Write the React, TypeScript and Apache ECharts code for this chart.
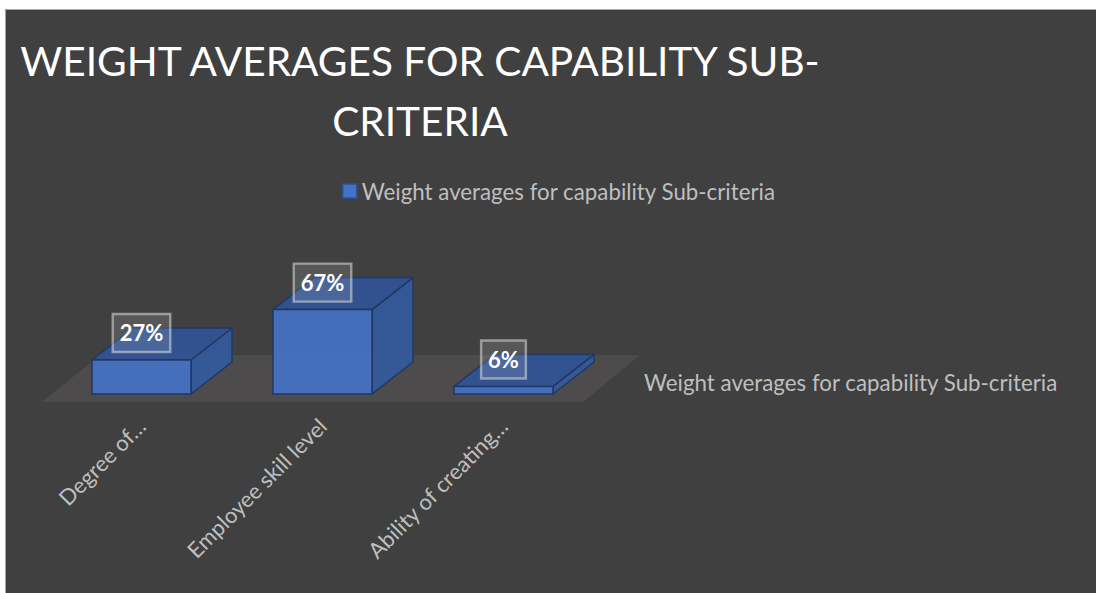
import React, { useEffect, useRef } from "react";
import * as echarts from "echarts";

const categories = ["Degree of…", "Employee skill level", "Ability of creating…"];
const values = [27, 67, 6];
const seriesName = "Weight averages for capability Sub-criteria";
const titleText = "WEIGHT AVERAGES FOR CAPABILITY SUB-\nCRITERIA";

const FONT = "Lato, 'Open Sans', sans-serif";

export default function App() {
  const ref = useRef<HTMLDivElement>(null);
  useEffect(() => {
    document.documentElement.style.background = "#404040";
    const chart = echarts.init(ref.current!, null, { renderer: "svg" });
    const DX = 41;
    const DY = -32;
    const barData = values.map((v, i) => [i, v]);

    chart.setOption({
      animation: false,
      backgroundColor: "#404040",
      title: {
        text: titleText,
        left: 415,
        top: 25,
        textAlign: "center",
        textStyle: {
          color: "#ffffff",
          fontFamily: FONT,
          fontWeight: "normal",
          fontSize: 40.6,
          lineHeight: 60,
        },
      },
      legend: {
        left: 337,
        top: 175,
        itemWidth: 14,
        itemHeight: 14,
        textStyle: { color: "#bfbfbf", fontSize: 22.3, fontFamily: FONT },
        data: [
          {
            name: seriesName,
            icon: "rect",
            itemStyle: { color: "#4472c4", borderColor: "#2f528f", borderWidth: 1.5 },
          },
        ],
      },
      grid: { left: 51, width: 543, top: 268, height: 126 },
      xAxis: {
        type: "category",
        data: categories,
        axisLine: { show: false },
        axisTick: { show: false },
        axisLabel: {
          rotate: 45,
          margin: 28,
          interval: 0,
          color: "#bfbfbf",
          fontSize: 22,
          fontFamily: FONT,
        },
      },
      yAxis: { type: "value", min: 0, max: 100, show: false },
      graphic: [
        {
          type: "rect",
          z: -10,
          shape: { x: 0, y: 0, width: 1096, height: 9 },
          style: { fill: "#ffffff" },
        },
        {
          type: "rect",
          z: -10,
          shape: { x: 0, y: 0, width: 5, height: 593 },
          style: { fill: "#ffffff" },
        },
        {
          type: "polyline",
          z: -9,
          shape: { points: [[5.5, 593], [5.5, 9.5], [1096, 9.5]] },
          style: { stroke: "#a6a6a6", lineWidth: 1, fill: null },
        },
        {
          type: "text",
          x: 644,
          y: 382,
          style: {
            text: seriesName,
            fill: "#bfbfbf",
            fontSize: 22.3,
            fontFamily: FONT,
            verticalAlign: "middle",
          },
        },
      ],
      series: [
        {
          type: "custom",
          name: "floor",
          silent: true,
          z: 1,
          data: [[0, 0]],
          encode: { x: 0, y: 1 },
          renderItem: (_params: any, api: any) => {
            const c0 = api.coord([0, 0]);
            const c2 = api.coord([categories.length - 1, 0]);
            const band = api.size([1, 0])[0];
            const fy = c0[1] + 8;
            const fl = c0[0] - band / 2 - 9;
            const fr = c2[0] + band / 2 - 11;
            return {
              type: "polygon",
              shape: {
                points: [
                  [fl, fy],
                  [fr, fy],
                  [fr + 57, fy - 47],
                  [fl + 58, fy - 47],
                ],
              },
              style: { fill: "#4d4b4b" },
            };
          },
        },
        {
          type: "custom",
          name: seriesName,
          z: 2,
          data: barData,
          encode: { x: 0, y: 1 },
          itemStyle: { color: "#4472c4" },
          renderItem: (_params: any, api: any) => {
            const idx = api.value(0);
            const v = api.value(1);
            const b = api.coord([idx, 0]);
            const t = api.coord([idx, v]);
            const w = api.size([1, 0])[0] * 0.547;
            const xl = b[0] - w / 2;
            const xr = b[0] + w / 2;
            const yb = b[1];
            const yt = t[1];
            const edge = "#1f3864";
            return {
              type: "group",
              children: [
                {
                  type: "polyline",
                  shape: {
                    points: [
                      [xl + DX, yt + DY],
                      [xl + DX, yb + DY],
                      [xr + DX, yb + DY],
                    ],
                  },
                  style: { stroke: "#2a4a85", lineWidth: 1, fill: null },
                },
                {
                  type: "line",
                  shape: { x1: xl, y1: yb, x2: xl + DX, y2: yb + DY },
                  style: { stroke: "#2a4a85", lineWidth: 1 },
                },
                {
                  type: "polygon",
                  shape: {
                    points: [
                      [xr, yb],
                      [xr + DX, yb + DY],
                      [xr + DX, yt + DY],
                      [xr, yt],
                    ],
                  },
                  style: { fill: "rgba(52,88,155,0.95)", stroke: edge, lineWidth: 1.5, lineJoin: "round" },
                },
                {
                  type: "polygon",
                  shape: {
                    points: [
                      [xl, yt],
                      [xr, yt],
                      [xr + DX, yt + DY],
                      [xl + DX, yt + DY],
                    ],
                  },
                  style: { fill: "rgba(50,84,150,0.93)", stroke: edge, lineWidth: 1.5, lineJoin: "round" },
                },
                {
                  type: "rect",
                  shape: { x: xl, y: yt, width: w, height: yb - yt },
                  style: { fill: "rgba(68,114,196,0.92)", stroke: edge, lineWidth: 1.5 },
                },
                {
                  type: "text",
                  x: b[0],
                  y: yt - 27,
                  z2: 10,
                  style: {
                    text: v + "%",
                    fill: "#ffffff",
                    fontSize: 22,
                    fontWeight: "bold",
                    fontFamily: FONT,
                    align: "center",
                    verticalAlign: "middle",
                    backgroundColor: "rgba(255,255,255,0.12)",
                    borderColor: "rgba(220,220,220,0.55)",
                    borderWidth: 1.2,
                    padding: [8, 7],
                  },
                },
              ],
            };
          },
        },
      ],
    });
    return () => chart.dispose();
  }, []);
  return (
    <div
      ref={ref}
      style={{ position: "fixed", left: 0, top: 0, width: 1096, height: 593 }}
    />
  );
}
